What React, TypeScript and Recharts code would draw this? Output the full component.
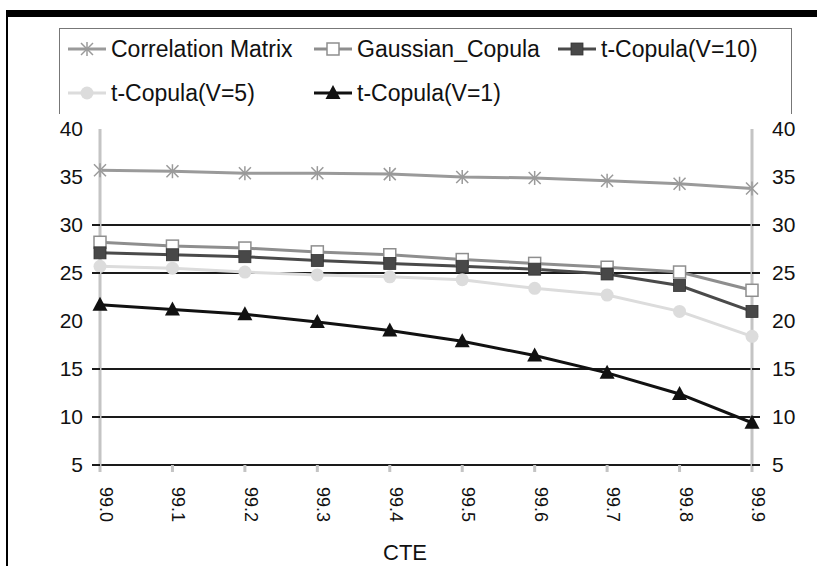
import React from 'react';
import { LineChart, Line, XAxis, YAxis, ReferenceLine, Legend, Label } from 'recharts';

// ---- data ----
const categories = ['99.0', '99.1', '99.2', '99.3', '99.4', '99.5', '99.6', '99.7', '99.8', '99.9'];
const correlationMatrix = [35.7, 35.6, 35.4, 35.4, 35.3, 35.0, 34.9, 34.6, 34.3, 33.8];
const gaussianCopula = [28.2, 27.8, 27.6, 27.2, 26.9, 26.4, 26.0, 25.6, 25.1, 23.2];
const tCopulaV10 = [27.1, 26.9, 26.7, 26.3, 26.0, 25.7, 25.4, 24.9, 23.7, 21.0];
const tCopulaV5 = [25.7, 25.5, 25.1, 24.8, 24.6, 24.3, 23.4, 22.7, 21.0, 18.4];
const tCopulaV1 = [21.7, 21.2, 20.7, 19.9, 19.0, 17.9, 16.4, 14.6, 12.4, 9.4];
const yTicks = [5, 10, 15, 20, 25, 30, 35, 40];
const gridValues = [5, 10, 15, 25, 30];
const xTitle = 'CTE';

const data = categories.map((c, i) => ({
  cte: c,
  corr: correlationMatrix[i],
  gauss: gaussianCopula[i],
  v10: tCopulaV10[i],
  v5: tCopulaV5[i],
  v1: tCopulaV1[i],
}));

const FONT = '"Liberation Sans", Arial, Helvetica, sans-serif';
const TEXT = '#111';

type MarkerType = 'asterisk' | 'openSquare' | 'square' | 'circle' | 'triangle';

const series: { key: string; name: string; color: string; marker: MarkerType; markerColor: string }[] = [
  { key: 'corr', name: 'Correlation Matrix', color: '#9a9a9a', marker: 'asterisk', markerColor: '#9a9a9a' },
  { key: 'gauss', name: 'Gaussian_Copula', color: '#8e8e8e', marker: 'openSquare', markerColor: '#8e8e8e' },
  { key: 'v10', name: 't-Copula(V=10)', color: '#4a4a4a', marker: 'square', markerColor: '#484848' },
  { key: 'v5', name: 't-Copula(V=5)', color: '#dcdcdc', marker: 'circle', markerColor: '#dcdcdc' },
  { key: 'v1', name: 't-Copula(V=1)', color: '#111111', marker: 'triangle', markerColor: '#111111' },
];

function renderMarker(type: MarkerType, cx: number, cy: number, color: string, key?: any) {
  switch (type) {
    case 'asterisk':
      return (
        <g key={key}>
          <line x1={cx - 6} y1={cy - 6} x2={cx + 6} y2={cy + 6} stroke={color} strokeWidth={1.5} />
          <line x1={cx - 6} y1={cy + 6} x2={cx + 6} y2={cy - 6} stroke={color} strokeWidth={1.5} />
          <line x1={cx} y1={cy - 7} x2={cx} y2={cy + 7} stroke={color} strokeWidth={1.5} />
        </g>
      );
    case 'openSquare':
      return <rect key={key} x={cx - 6} y={cy - 6} width={12} height={12} fill="#fff" stroke={color} strokeWidth={1.5} />;
    case 'square':
      return <rect key={key} x={cx - 6} y={cy - 6} width={12} height={12} fill={color} stroke="#333" strokeWidth={0.8} />;
    case 'circle':
      return <circle key={key} cx={cx} cy={cy} r={6.5} fill={color} />;
    case 'triangle':
    default:
      return (
        <polygon
          key={key}
          points={`${cx},${cy - 8} ${cx - 7.5},${cy + 6} ${cx + 7.5},${cy + 6}`}
          fill={color}
        />
      );
  }
}

const legendPos: Record<string, { left: number; top: number }> = {
  corr: { left: 8, top: 8 },
  gauss: { left: 254, top: 8 },
  v10: { left: 498, top: 8 },
  v5: { left: 8, top: 52 },
  v1: { left: 254, top: 52 },
};

function LegendContent(props: any) {
  const { payload } = props;
  return (
    <div style={{ position: 'relative', width: '100%', height: '100%' }}>
      {(payload || []).map((entry: any) => {
        const s = series.find((d) => d.key === entry.dataKey)!;
        const pos = legendPos[s.key];
        return (
          <div
            key={s.key}
            style={{
              position: 'absolute',
              left: pos.left,
              top: pos.top,
              display: 'flex',
              alignItems: 'center',
              height: 24,
              whiteSpace: 'nowrap',
            }}
          >
            <svg width={38} height={20} style={{ marginRight: 5 }}>
              <line x1={0} y1={10} x2={38} y2={10} stroke={s.color} strokeWidth={3} />
              {renderMarker(s.marker, 19, 10, s.markerColor)}
            </svg>
            <span style={{ fontFamily: FONT, fontSize: 23, color: TEXT, lineHeight: '24px' }}>{s.name}</span>
          </div>
        );
      })}
    </div>
  );
}

function LeftTick(props: any) {
  const { x, y, payload } = props;
  const v = payload.value;
  return (
    <g>
      {gridValues.includes(v) && <line x1={x + 9} y1={y} x2={x + 17} y2={y} stroke="#1a1a1a" strokeWidth={2} />}
      <text x={x} y={y} dy={7} textAnchor="end" fontFamily={FONT} fontSize={21} fill={TEXT}>
        {v}
      </text>
    </g>
  );
}

function RightTick(props: any) {
  const { x, y, payload } = props;
  const v = payload.value;
  return (
    <g>
      {gridValues.includes(v) && <line x1={x - 20} y1={y} x2={x - 12} y2={y} stroke="#1a1a1a" strokeWidth={2} />}
      <text x={x} y={y} dy={7} textAnchor="start" fontFamily={FONT} fontSize={21} fill={TEXT}>
        {v}
      </text>
    </g>
  );
}

function XTick(props: any) {
  const { x, y, payload } = props;
  return (
    <text
      x={x}
      y={y}
      transform={`rotate(90 ${x} ${y})`}
      textAnchor="start"
      fontFamily={FONT}
      fontSize={18}
      fill={TEXT}
    >
      {payload.value}
    </text>
  );
}

export default function App() {
  return (
    <div style={{ position: 'absolute', left: 0, top: 0, width: 817, height: 566, background: '#fff', overflow: 'hidden' }}>
      <div style={{ position: 'absolute', left: 6, top: 10, width: 811, height: 7, background: '#000' }} />
      <div style={{ position: 'absolute', left: 6, top: 10, width: 2, height: 556, background: '#000' }} />
      <LineChart
        width={817}
        height={566}
        data={data}
        margin={{ top: 129, right: 64, bottom: 0, left: 99 }}
        style={{ position: 'absolute', left: 0, top: 0 }}
      >
        <XAxis
          dataKey="cte"
          height={101}
          axisLine={false}
          tickLine={{ stroke: '#c4c4c4', strokeWidth: 3 }}
          tickSize={7}
          tickMargin={15}
          tick={<XTick />}
          interval={0}
        >
          <Label value={xTitle} position="insideBottom" offset={6} dx={-21} fontFamily={FONT} fontSize={22} fill={TEXT} />
        </XAxis>
        <YAxis
          yAxisId="left"
          domain={[5, 40]}
          ticks={yTicks}
          width={1}
          axisLine={{ stroke: '#c4c4c4', strokeWidth: 3 }}
          tickLine={false}
          tickSize={8}
          tickMargin={9}
          tick={<LeftTick />}
          allowDataOverflow
        />
        <YAxis
          yAxisId="right"
          orientation="right"
          domain={[5, 40]}
          ticks={yTicks}
          width={1}
          axisLine={{ stroke: '#c4c4c4', strokeWidth: 3 }}
          tickLine={false}
          tickSize={8}
          tickMargin={12}
          tick={<RightTick />}
          allowDataOverflow
        />
        {gridValues.map((g) => (
          <ReferenceLine key={g} yAxisId="left" y={g} stroke="#1a1a1a" strokeWidth={2} />
        ))}
        <Legend
          layout="horizontal"
          verticalAlign="middle"
          align="center"
          content={<LegendContent />}
          wrapperStyle={{
            position: 'absolute',
            left: 59,
            top: 28,
            width: 733,
            height: 86,
            borderLeft: '1.5px solid #777',
            borderTop: '1.5px solid #777',
            borderRight: '1.5px solid #777',
            boxSizing: 'border-box',
          }}
        />
        {series.map((s) => (
          <Line
            key={s.key}
            yAxisId="left"
            type="linear"
            dataKey={s.key}
            name={s.name}
            stroke={s.color}
            strokeWidth={3}
            isAnimationActive={false}
            dot={(p: any) => renderMarker(s.marker, p.cx, p.cy, s.markerColor, `${s.key}-${p.index}`)}
            activeDot={false}
          />
        ))}
      </LineChart>
    </div>
  );
}
